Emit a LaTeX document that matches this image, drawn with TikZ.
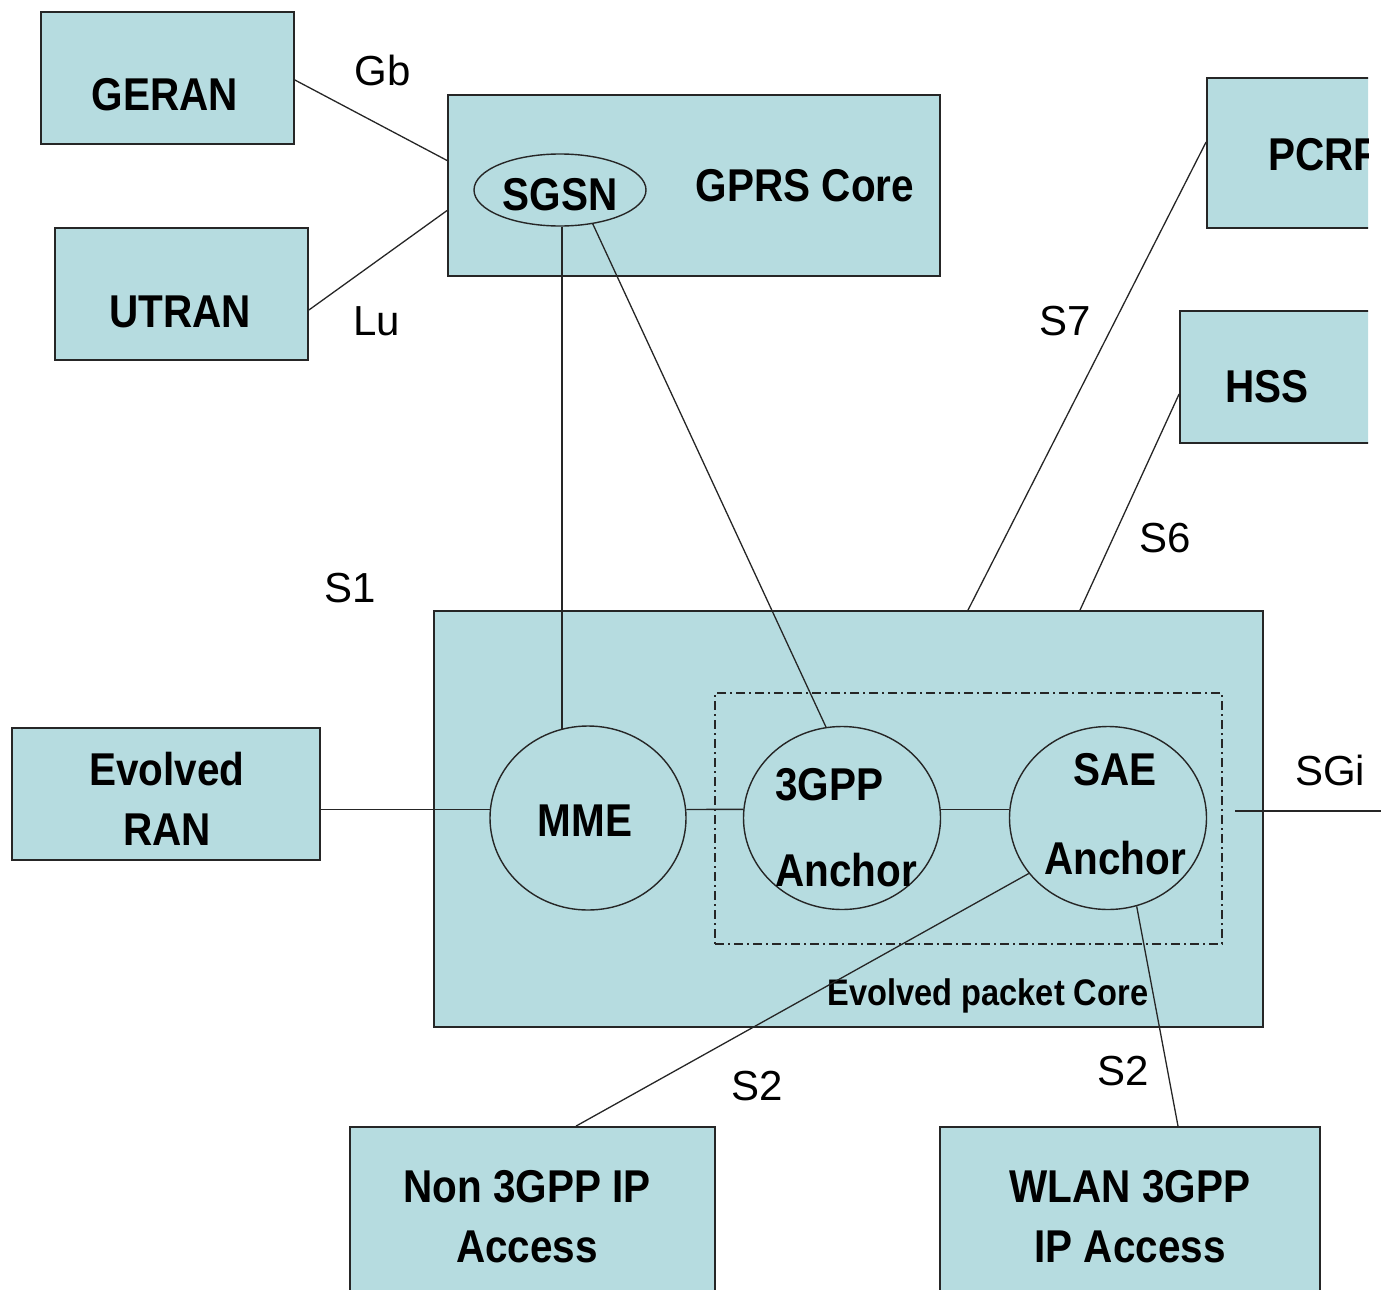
\documentclass[tikz,border=0pt]{standalone}
\usepackage{fontspec}
\setmainfont{Liberation Sans}
\newfontfamily\nfont{Liberation Sans}[FakeStretch=0.88]
\usetikzlibrary{shapes.geometric,calc}
\definecolor{boxfill}{RGB}{182,220,224}
\definecolor{edgec}{RGB}{38,38,38}
\begin{document}
\begin{tikzpicture}[x=1pt,y=-1pt,
  box/.style={draw=edgec, line width=1.8pt, fill=boxfill, rectangle, inner sep=0pt},
  oval/.style={draw=edgec, line width=1.4pt, fill=boxfill, ellipse, inner sep=0pt},
  conn/.style={draw=edgec, line width=1.3pt},
  dashbox/.style={draw=edgec, line width=1.3pt, rectangle, inner sep=0pt,
                  dash pattern=on 9pt off 4pt on 2pt off 4pt},
  big/.style={font=\nfont\bfseries\fontsize{46}{50}\selectfont, inner sep=0pt, anchor=base},
  mid/.style={font=\nfont\bfseries\fontsize{37}{40}\selectfont, inner sep=0pt, anchor=base},
  lab/.style={font=\fontsize{42}{46}\selectfont, inner sep=0pt, anchor=base, xscale=1},
]
\useasboundingbox (0,0) rectangle (1381,1290);

\begin{scope}
\clip (0,0) rectangle (1368,1290);
% boxes
\node[box, minimum width=253pt, minimum height=132pt] (geran) at (167.5,78) {};
\node[box, minimum width=253pt, minimum height=132pt] (utran) at (181.5,294) {};
\node[box, minimum width=492pt, minimum height=181pt] (gprs) at (694,185.5) {};
\node[box, minimum width=253pt, minimum height=150pt] (pcrf) at (1333.5,153) {};
\node[box, minimum width=253pt, minimum height=132pt] (hss) at (1306.5,377) {};
\node[box, minimum width=308pt, minimum height=132pt] (eran) at (166,794) {};
\node[box, minimum width=829pt, minimum height=416pt] (epc) at (848.5,819) {};
\node[box, minimum width=365pt, minimum height=180pt] (non) at (532.5,1217) {};
\node[box, minimum width=380pt, minimum height=180pt] (wlan) at (1130,1217) {};
\node[dashbox, minimum width=507pt, minimum height=251pt] (dbox) at (968.5,818.5) {};

% ovals
\node[oval, minimum width=172pt, minimum height=72pt] (sgsn) at (560,190) {};
\node[oval, minimum width=196pt, minimum height=184pt] (mme) at (588,818) {};
\node[oval, minimum width=197pt, minimum height=183pt] (tgpp) at (842,818) {};
\node[oval, minimum width=197pt, minimum height=183pt] (sae) at (1108,818) {};

% bold texts
\node[big] (geranT) at (165,110) {GERAN};
\node[big] (utranT) at (180,327) {UTRAN};
\node[big] (sgsnT) at (560,210) {SGSN};
\node[big] (gprsT) at (805,201) {GPRS Core};
\node[big, anchor=base west] (pcrfT) at (1268,170) {PCRF};
\node[big] (hssT) at (1267,402) {HSS};
\node[big] (eranT1) at (167,785) {Evolved};
\node[big] (eranT2) at (167,845) {RAN};
\node[big] (mmeT) at (585,836) {MME};
\node[big, anchor=base west] (tgppT1) at (775,800) {3GPP};
\node[big, anchor=base west] (tgppT2) at (775,886) {Anchor};
\node[big] (saeT1) at (1115,785) {SAE};
\node[big] (saeT2) at (1115,874) {Anchor};
\node[mid] (epcT) at (988,1005) {Evolved packet Core};
\node[big] (nonT1) at (527,1202) {Non 3GPP IP};
\node[big] (nonT2) at (527,1262) {Access};
\node[big] (wlanT1) at (1130,1202) {WLAN 3GPP};
\node[big] (wlanT2) at (1130,1262) {IP Access};
\end{scope}

% interface labels
\node[lab] (gbL) at (383,85) {Gb};
\node[lab] (luL) at (377,335) {Lu};
\node[lab] (s7L) at (1065,335) {S7};
\node[lab] (s6L) at (1165,552) {S6};
\node[lab] (s1L) at (350,602) {S1};
\node[lab] (sgiL) at (1330,785) {SGi};
\node[lab] (s2aL) at (757,1100) {S2};
\node[lab] (s2bL) at (1123,1085) {S2};

% connectors
\draw[conn] ([yshift=-2pt]geran.east) -- ([yshift=25pt]gprs.west);
\draw[conn] ([yshift=-16pt]utran.east) -- ([yshift=-25pt]gprs.west);
\draw[conn] ([xshift=2pt]sgsn.south) -- ([xshift=2pt]sgsn.south |- mme.107);
\draw[conn] (sgsn.-46) -- (tgpp.100);
\draw[conn] ([yshift=11pt]pcrf.west) -- ([xshift=119.5pt]epc.north);
\draw[conn] ([yshift=-17pt]hss.west) -- ([xshift=231.5pt]epc.north);
\draw[conn] (eran.east |- mme.175) -- (mme.175);
\draw[conn] (mme.5) -- (tgpp.175);
\draw[conn] (tgpp.5) -- (sae.175);
\coordinate (sgiA) at (1235,811);
\coordinate (sgiB) at (1381,811);
\draw[conn] (sgiA) -- (sgiB);
\draw[conn] (sae.215) -- ([xshift=43.5pt]non.north);
\draw[conn] (sae.-72) -- ([xshift=48pt]wlan.north);
\end{tikzpicture}
\end{document}
